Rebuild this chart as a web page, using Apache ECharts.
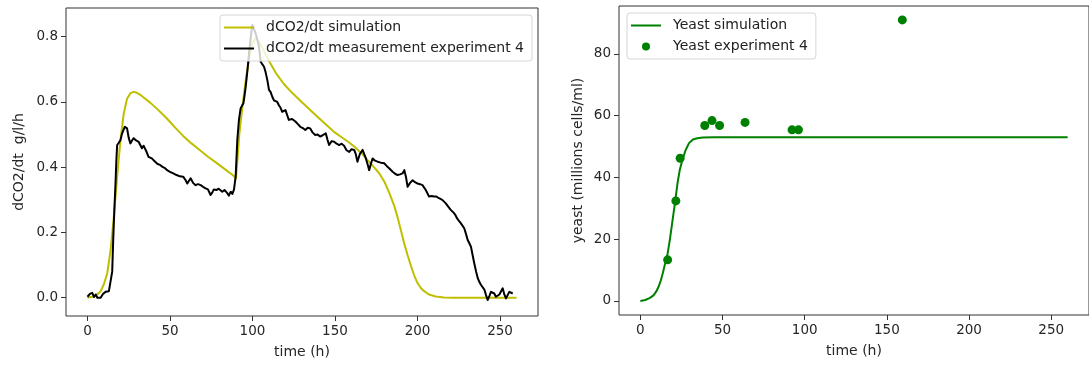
<!DOCTYPE html>
<html>
<head>
<meta charset="utf-8">
<script src="https://cdn.jsdelivr.net/npm/echarts@6/dist/echarts.min.js"></script>
<style>
  html, body { margin: 0; padding: 0; background: #fff; }
  #chart { width: 1089px; height: 365px; }
</style>
</head>
<body>
<div id="chart"></div>
<script>
// left panel: CO2 production rate
const simTime = [0, 3, 6, 8, 10, 12, 14, 16, 18, 20, 22, 24, 26, 28, 30, 32, 35, 38, 43, 48, 53, 58, 63, 68, 73, 78, 83, 88, 90,
  91, 92, 94, 96, 98, 100, 102, 104, 109, 114, 119, 124, 129, 134, 139, 144, 149, 154, 158, 162, 166, 170, 174, 177, 180, 183,
  186, 188, 190, 192, 194, 196, 198, 200, 202, 204, 207, 211, 216, 222, 260]
const simCO2 = [0, 0.003, 0.01, 0.02, 0.042, 0.075, 0.146, 0.248, 0.371, 0.483, 0.565, 0.61, 0.627, 0.631, 0.628, 0.622, 0.61, 0.598, 0.575, 0.55, 0.522, 0.496, 0.473, 0.453, 0.432, 0.414, 0.395, 0.376, 0.366,
  0.43, 0.5, 0.59, 0.67, 0.735, 0.78, 0.795, 0.785, 0.735, 0.69, 0.655, 0.628, 0.604, 0.58, 0.556, 0.533, 0.51, 0.492, 0.478, 0.462, 0.443, 0.42, 0.398, 0.38, 0.355, 0.32,
  0.28, 0.245, 0.205, 0.165, 0.13, 0.098, 0.068, 0.045, 0.03, 0.02, 0.01, 0.004, 0.001, 0, 0]

const measTime = [0, 1.5, 2.9, 4, 5, 6, 8, 9.5, 11, 13, 14, 15, 15.6, 16.3, 17, 17.5, 18, 19, 20, 21, 22.6, 23.5, 24, 25, 26, 27, 28, 29.5,
  31, 32, 33, 34, 35, 36, 37, 38, 39, 40, 41, 42.5, 44, 45.5, 47, 48.5, 50, 52, 54, 56, 58, 59.5, 60.5, 61.5, 62.5, 64, 65.5, 67, 68.6,
  70, 71.6, 73, 74.6, 75.6, 76.6, 78, 79.5, 80.5, 81.7, 83, 84.5, 85.7, 86.8, 87.8, 88.8, 89.8, 90.8, 91.8, 92.8, 93.6, 94.5, 95.2, 95.9,
  97, 97.9, 99, 99.9, 100.8, 101.9, 103, 103.9, 105, 106, 107, 108, 109, 110, 111, 112, 113, 114, 115, 116, 117, 118, 119, 120, 121, 122,
  124, 126, 127.5, 129, 130.5, 132, 133.5, 135, 136.5, 138, 139.5, 141, 142.5, 144.4, 145.4, 146.4, 148, 149.5, 151, 152.5, 154, 155.5,
  157, 158.6, 160, 161.6, 162.6, 163.6, 165, 166.7, 167.7, 168.7, 169.7, 170.7, 171.7, 172.8, 174.3, 175.8, 177.8, 179.8, 181.3, 182.8,
  184.9, 186.4, 187.9, 189.4, 190.9, 192, 193, 194, 195.5, 197, 198.5, 200, 201.5, 203, 205, 207, 208.5, 210, 211.5, 213, 214, 215, 217,
  218.5, 220, 221, 222, 223, 224, 225, 226.3, 227.4, 228.3, 229.4, 230.4, 231.4, 232.4, 233.4, 234.4, 235.5, 236.5, 237.5, 238.5, 239.5,
  240.5, 241.5, 242.5, 243.5, 244.5, 245.5, 246.5, 247.5, 248.6, 249.6, 250.6, 251.6, 252.6, 253.6, 254.6, 255.6, 256.6, 257.7]
const measCO2 = [0.003, 0.012, 0.015, 0.002, 0.01, 0, 0, 0.012, 0.018, 0.02, 0.024, 0.08, 0.177, 0.27, 0.35, 0.42, 0.468, 0.475, 0.483, 0.504, 0.524, 0.52, 0.519, 0.49, 0.473, 0.482, 0.489, 0.482,
  0.478, 0.468, 0.458, 0.466, 0.463, 0.445, 0.432, 0.436, 0.427, 0.424, 0.417, 0.41, 0.407, 0.401, 0.397, 0.39, 0.386, 0.381, 0.376, 0.372, 0.371, 0.36, 0.35, 0.356, 0.366, 0.352, 0.345, 0.348, 0.345,
  0.34, 0.335, 0.332, 0.315, 0.322, 0.332, 0.33, 0.334, 0.328, 0.325, 0.33, 0.322, 0.313, 0.325, 0.318, 0.332, 0.371, 0.483, 0.545, 0.58, 0.588, 0.596, 0.62, 0.647,
  0.7, 0.749, 0.8, 0.836, 0.825, 0.81, 0.79, 0.77, 0.723, 0.715, 0.708, 0.69, 0.667, 0.637, 0.63, 0.616, 0.605, 0.6, 0.6, 0.59, 0.582, 0.57, 0.576, 0.575, 0.56, 0.545,
  0.548, 0.54, 0.532, 0.524, 0.52, 0.514, 0.521, 0.519, 0.506, 0.499, 0.5, 0.494, 0.498, 0.504, 0.485, 0.468, 0.48, 0.478, 0.472, 0.468, 0.472, 0.466,
  0.452, 0.447, 0.455, 0.453, 0.44, 0.417, 0.44, 0.453, 0.44, 0.427, 0.41, 0.391, 0.41, 0.427, 0.42, 0.417, 0.414, 0.412, 0.404, 0.397,
  0.386, 0.38, 0.376, 0.378, 0.381, 0.391, 0.37, 0.34, 0.352, 0.36, 0.354, 0.35, 0.348, 0.345, 0.33, 0.31, 0.312, 0.31, 0.31, 0.305, 0.305, 0.3, 0.29,
  0.28, 0.27, 0.264, 0.26, 0.253, 0.243, 0.236, 0.228, 0.223, 0.213, 0.195, 0.177, 0.167, 0.156, 0.13, 0.105, 0.08, 0.06, 0.048, 0.039, 0.044,
  0.025, 0.008, -0.007, 0.005, 0.018, 0.015, 0.013, 0.003, 0.008, 0.01, 0.013, 0.029, 0.01, -0.002, 0.008, 0.018, 0.012, 0.013]

// right panel: yeast
const yeastSimTime = [0, 3, 5.6, 8, 9.6, 11, 12.5, 13.6, 15, 16.6, 18, 19.6, 21, 22.6, 24, 25.6, 27.5, 29.6, 32, 34.6, 38, 45, 60, 260]
const yeastSim = [0, 0.3, 0.9, 1.8, 3, 4.5, 6.7, 8.9, 12, 15.4, 20, 26.2, 31.5, 38.1, 42.5, 45.7, 48.8, 51.1, 52.3, 52.7, 52.9, 53, 53, 53]
const yeastExpTime = [16.6, 21.6, 24.2, 39.2, 43.6, 48.2, 63.7, 92.3, 96.2, 159.4]
const yeastExp = [13.3, 32.4, 46.2, 56.8, 58.4, 56.8, 57.8, 55.4, 55.4, 91.0]

const timeTicks = [0, 50, 100, 150, 200, 250]
const co2Ticks = [0, 0.2, 0.4, 0.6, 0.8]
const yeastTicks = [0, 20, 40, 60, 80]

const zip = (xs, ys) => xs.map((x, i) => [x, ys[i]])

const font = 'DejaVu Sans'
const tickText = { color: '#262626', fontSize: 13.5, fontFamily: font }
const nameText = { color: '#262626', fontSize: 14, fontFamily: font }
const lineIcon = 'path://M0,0H30V2H0Z'

function xAx(gridIndex) {
  return {
    type: 'value', gridIndex: gridIndex, min: -13, max: 273,
    name: 'time (h)', nameLocation: 'middle', nameGap: 29,
    nameTextStyle: nameText,
    axisLine: { show: false, onZero: false },
    axisTick: { show: true, length: 5, lineStyle: { color: '#333' }, customValues: timeTicks },
    axisLabel: Object.assign({ margin: 8, customValues: timeTicks }, tickText),
    splitLine: { show: false }
  }
}

function yAx(gridIndex, min, max, ticks, name, gap, fmt) {
  return {
    type: 'value', gridIndex: gridIndex, min: min, max: max,
    name: name, nameLocation: 'middle', nameGap: gap, nameRotate: 90,
    nameTextStyle: nameText,
    axisLine: { show: false, onZero: false },
    axisTick: { show: true, length: 5, lineStyle: { color: '#333' }, customValues: ticks },
    axisLabel: Object.assign({ margin: 8, customValues: ticks, formatter: fmt }, tickText),
    splitLine: { show: false }
  }
}

const legendBase = {
  orient: 'vertical',
  itemWidth: 30,
  itemHeight: 8,
  itemGap: 6,
  padding: [5, 8, 5, 4],
  borderColor: '#d6d6d6',
  borderWidth: 1,
  borderRadius: 3,
  backgroundColor: 'rgba(255,255,255,0.8)',
  textStyle: { color: '#222', fontSize: 14, fontFamily: font, lineHeight: 15, padding: [0, 0, 0, 7] }
}

const chart = echarts.init(document.getElementById('chart'))
chart.setOption({
  animation: false,
  backgroundColor: '#fff',
  grid: [
    { left: 66, top: 8, width: 472, height: 308, show: true, borderColor: '#333', borderWidth: 1, backgroundColor: 'transparent' },
    { left: 619, top: 6, width: 476, height: 309, show: true, borderColor: '#333', borderWidth: 1, backgroundColor: 'transparent' }
  ],
  legend: [
    Object.assign({}, legendBase, {
      left: 220, top: 15,
      data: [{ name: 'dCO2/dt simulation', icon: lineIcon }, { name: 'dCO2/dt measurement experiment 4', icon: lineIcon }]
    }),
    Object.assign({}, legendBase, {
      left: 627, top: 13,
      data: [{ name: 'Yeast simulation', icon: lineIcon }, { name: 'Yeast experiment 4', icon: 'circle' }]
    })
  ],
  xAxis: [xAx(0), xAx(1)],
  yAxis: [
    yAx(0, -0.056, 0.888, co2Ticks, 'dCO2/dt  g/l/h', 40, v => v.toFixed(1)),
    yAx(1, -4.55, 95.5, yeastTicks, 'yeast (millions cells/ml)', 34, v => String(v))
  ],
  series: [
    {
      name: 'dCO2/dt simulation', type: 'line', xAxisIndex: 0, yAxisIndex: 0,
      data: zip(simTime, simCO2), symbol: 'none',
      lineStyle: { color: '#bfbf00', width: 2, join: 'round' }, itemStyle: { color: '#bfbf00' }
    },
    {
      name: 'dCO2/dt measurement experiment 4', type: 'line', xAxisIndex: 0, yAxisIndex: 0,
      data: zip(measTime, measCO2), symbol: 'none',
      lineStyle: { color: '#000', width: 2, join: 'round' }, itemStyle: { color: '#000' }
    },
    {
      name: 'Yeast simulation', type: 'line', xAxisIndex: 1, yAxisIndex: 1,
      data: zip(yeastSimTime, yeastSim), symbol: 'none',
      lineStyle: { color: '#008000', width: 2, join: 'round' }, itemStyle: { color: '#008000' }
    },
    {
      name: 'Yeast experiment 4', type: 'scatter', xAxisIndex: 1, yAxisIndex: 1,
      data: zip(yeastExpTime, yeastExp), symbol: 'circle', symbolSize: 9,
      itemStyle: { color: '#008000', opacity: 1 }
    }
  ]
})
</script>
</body>
</html>
